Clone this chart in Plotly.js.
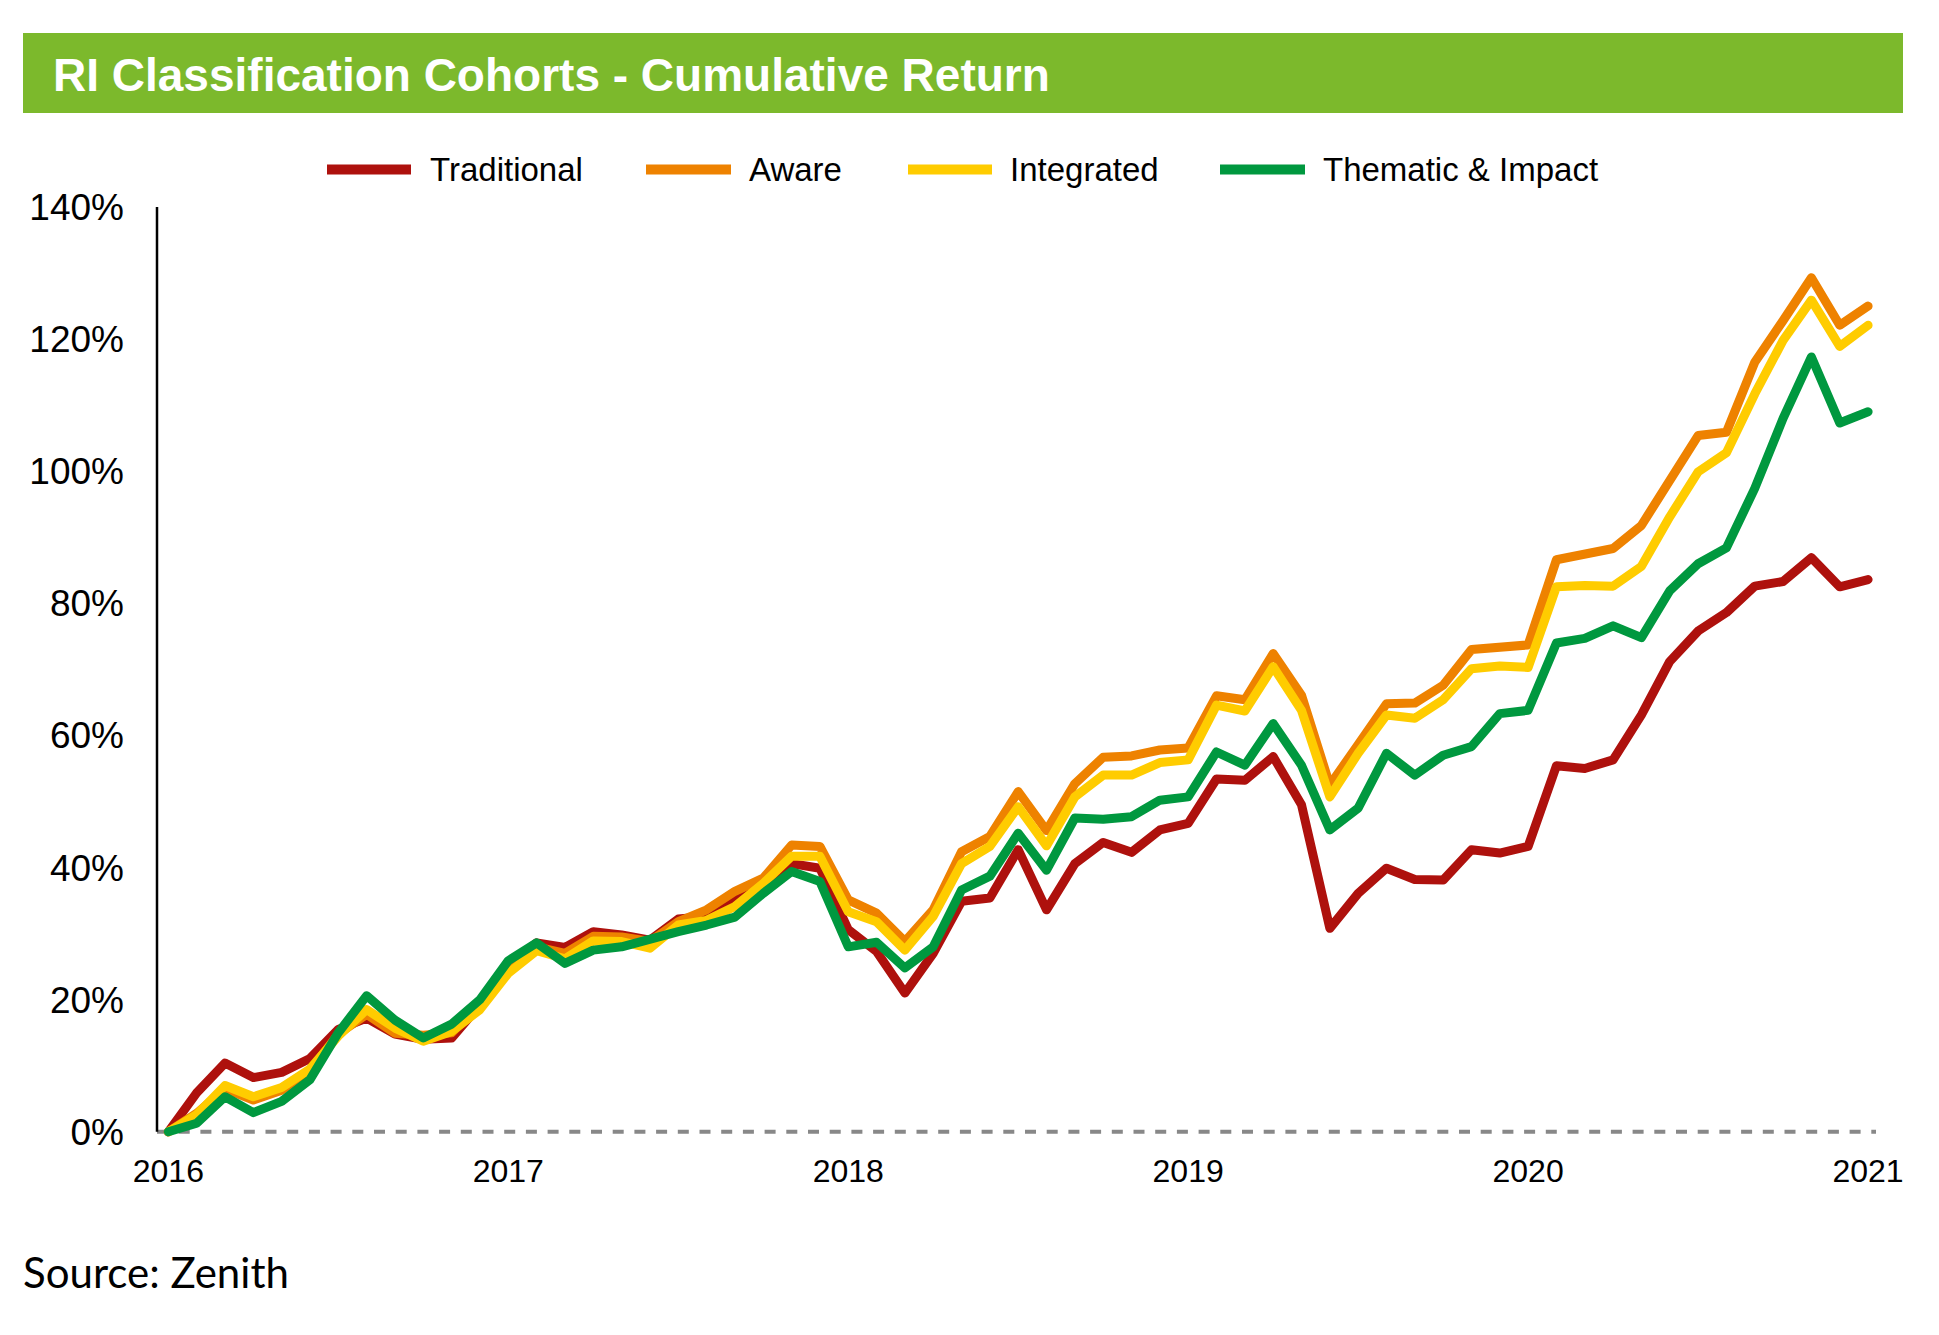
<!DOCTYPE html>
<html>
<head>
<meta charset="utf-8">
<script src="https://cdn.plot.ly/plotly-3.0.1.min.js"></script>
<style>
  html, body { margin: 0; padding: 0; background: #ffffff; }
  #chart { width: 1939px; height: 1335px; }
  .scatterlayer .js-line { stroke-linejoin: round !important; stroke-linecap: round !important; }
</style>
</head>
<body>
<div id="chart"></div>
<script>
// ---------------- data ----------------
const months = [
  "2016-01","2016-02","2016-03","2016-04","2016-05","2016-06","2016-07","2016-08","2016-09","2016-10","2016-11","2016-12",
  "2017-01","2017-02","2017-03","2017-04","2017-05","2017-06","2017-07","2017-08","2017-09","2017-10","2017-11","2017-12",
  "2018-01","2018-02","2018-03","2018-04","2018-05","2018-06","2018-07","2018-08","2018-09","2018-10","2018-11","2018-12",
  "2019-01","2019-02","2019-03","2019-04","2019-05","2019-06","2019-07","2019-08","2019-09","2019-10","2019-11","2019-12",
  "2020-01","2020-02","2020-03","2020-04","2020-05","2020-06","2020-07","2020-08","2020-09","2020-10","2020-11","2020-12",
  "2021-01"
];
const seriesNames = ["Traditional", "Aware", "Integrated", "Thematic & Impact"];

const traditional = [0,5.9,10.4,8.2,9.0,11.1,15.5,17.2,14.8,14.0,14.2,19.2,
  25.3,28.6,27.9,30.3,29.8,29.0,32.2,32.6,35.4,37.6,40.6,39.9,
  30.6,27.3,21.0,27.0,34.9,35.4,42.7,33.6,40.6,43.8,42.3,45.7,
  46.7,53.4,53.2,56.8,49.5,30.8,36.1,39.9,38.2,38.1,42.7,42.2,
  43.2,55.4,55.0,56.3,63.1,71.2,75.8,78.6,82.6,83.3,86.9,82.5,
  83.6];
const aware = [0,2.8,6.5,4.8,6.3,9.2,14.8,17.8,14.9,14.6,15.0,19.3,
  25.3,28.0,27.0,29.6,29.5,28.8,31.8,33.6,36.4,38.4,43.4,43.2,
  35.1,33.1,28.8,33.6,42.4,44.7,51.5,45.6,52.7,56.7,56.9,57.8,
  58.1,66.0,65.4,72.4,66.1,52.5,58.6,64.8,64.9,67.6,73.0,73.2,
  73.7,86.6,87.3,88.3,91.8,98.6,105.4,105.9,116.5,122.8,129.3,122.1,
  125.0];
const integrated = [0,2.6,7.0,5.3,6.7,9.5,14.5,18.5,15.7,13.7,15.2,18.5,
  24.0,27.4,26.2,28.9,28.8,27.8,31.3,32.0,34.1,37.6,41.7,41.7,
  33.3,31.8,27.5,32.6,40.6,43.2,49.2,43.3,50.7,54.0,54.0,55.9,
  56.3,64.6,63.7,70.4,63.8,50.7,57.3,63.1,62.6,65.4,70.1,70.5,
  70.3,82.5,82.7,82.6,85.6,93.1,99.9,102.8,111.7,119.8,125.9,118.9,
  122.1];
const thematic = [0,1.3,5.3,2.9,4.6,7.9,15.0,20.6,16.9,14.2,16.3,20.0,
  25.9,28.6,25.5,27.5,28.0,29.3,30.3,31.3,32.5,36.1,39.4,37.9,
  28.0,28.7,24.8,28.0,36.6,38.7,45.2,39.6,47.5,47.3,47.7,50.2,
  50.7,57.5,55.5,61.8,55.5,45.7,49.0,57.3,54.0,57.0,58.3,63.3,
  63.8,74.0,74.7,76.6,74.8,81.9,86.0,88.4,97.4,108.0,117.3,107.3,
  109.0];

const xTickVals = ["2016-01","2017-01","2018-01","2019-01","2020-01","2021-01"];
const xTickText = ["2016","2017","2018","2019","2020","2021"];
const yTickVals = [0,20,40,60,80,100,120,140];
const yTickText = ["0%","20%","40%","60%","80%","100%","120%","140%"];

const titleText = "RI Classification Cohorts - Cumulative Return";
const sourceText = "Source: Zenith";

// ---------------- styling ----------------
const colors = ["#AE110D", "#EE8200", "#FFCC00", "#00983F"];
const W = 1939, H = 1335;
const M = { l: 157, r: 63, t: 207, b: 190 };
const plotW = W - M.l - M.r, plotH = H - M.t - M.b;
const px2x = p => (p - M.l) / plotW;
const px2y = p => (H - M.b - p) / plotH;

const allSeries = [traditional, aware, integrated, thematic];
const traces = allSeries.map((vals, i) => ({
  type: "scatter",
  mode: "lines",
  name: seriesNames[i],
  x: months,
  y: vals,
  line: { color: colors[i], width: 9 },
  hoverinfo: "skip",
  showlegend: false
}));

// custom legend geometry (pixel positions)
const legLines = [[327, 411], [646, 731], [908, 992], [1220, 1305]];
const legText = [428, 747, 1008, 1321];
const legY = 169.5;

const shapes = [
  // title bar
  { type: "rect", xref: "paper", yref: "paper",
    x0: px2x(23), x1: px2x(1903), y0: px2y(113), y1: px2y(33),
    fillcolor: "#7CB92C", line: { width: 0 }, layer: "below" },
  // dashed zero line
  { type: "line", xref: "paper", yref: "y", x0: 0, x1: 1, y0: 0, y1: 0,
    line: { color: "#888888", width: 4, dash: "11px,10.7px" }, layer: "below" },
  // y axis line
  { type: "line", xref: "paper", yref: "y", x0: 0, x1: 0, y0: 0, y1: 140,
    line: { color: "#000000", width: 2.5 }, layer: "above" }
];
legLines.forEach((seg, i) => {
  shapes.push({ type: "line", xref: "paper", yref: "paper",
    x0: px2x(seg[0]), x1: px2x(seg[1]), y0: px2y(legY), y1: px2y(legY),
    line: { color: colors[i], width: 10 } });
});

const annotations = seriesNames.map((n, i) => ({
  text: n, xref: "paper", yref: "paper",
  x: px2x(legText[i]), y: px2y(legY), xanchor: "left", yanchor: "middle",
  showarrow: false,
  font: { family: "Liberation Sans, Arial, sans-serif", size: 33, color: "#000000" }
}));
annotations.push({
  text: sourceText, xref: "paper", yref: "paper",
  x: px2x(21), y: px2y(1272), xanchor: "left", yanchor: "middle",
  showarrow: false,
  font: { family: "Lato, 'Noto Sans', sans-serif", size: 42, color: "#000000" }
});

const layout = {
  width: W, height: H,
  margin: M,
  paper_bgcolor: "#ffffff",
  plot_bgcolor: "#ffffff",
  showlegend: false,
  title: {
    text: titleText,
    xref: "container", yref: "container",
    x: 53 / W, xanchor: "left",
    y: (H - 75) / H, yanchor: "middle",
    font: { family: "Liberation Sans, Arial, sans-serif", size: 46, color: "#ffffff", weight: "bold" }
  },
  xaxis: {
    type: "category",
    range: [-0.4, 60.28],
    tickmode: "array",
    tickvals: xTickVals,
    ticktext: xTickText,
    ticks: "",
    showgrid: false, zeroline: false, showline: false,
    ticklabelstandoff: 4,
    tickfont: { family: "Liberation Sans, Arial, sans-serif", size: 32, color: "#000000" }
  },
  yaxis: {
    range: [-2, 140],
    tickmode: "array",
    tickvals: yTickVals,
    ticktext: yTickText,
    ticks: "",
    showgrid: false, zeroline: false, showline: false,
    ticklabelstandoff: 32,
    tickfont: { family: "Liberation Sans, Arial, sans-serif", size: 37, color: "#000000" }
  },
  shapes: shapes,
  annotations: annotations
};

Plotly.newPlot("chart", traces, layout, { displayModeBar: false, staticPlot: true });
</script>
</body>
</html>
